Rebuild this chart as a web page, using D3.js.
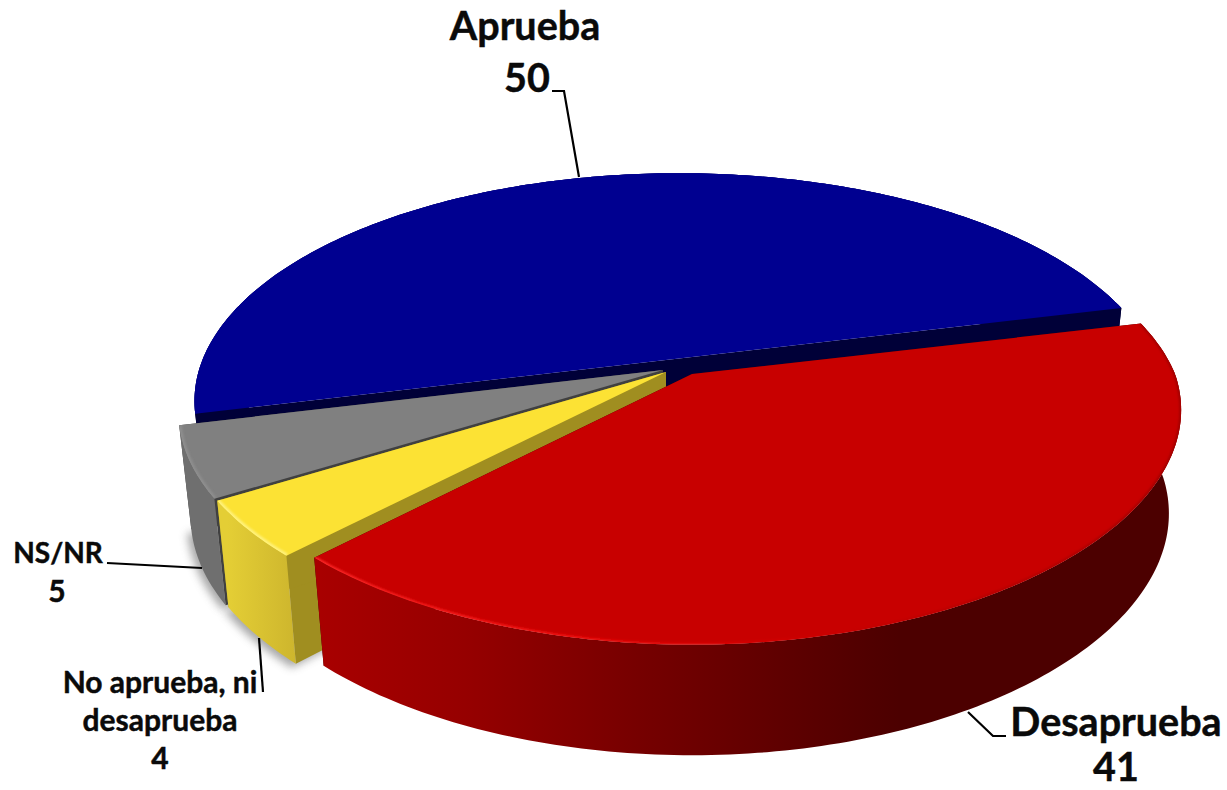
<!DOCTYPE html>
<html><head><meta charset="utf-8">
<script src="https://cdn.jsdelivr.net/npm/d3@7/dist/d3.min.js"></script>
<style>html,body{margin:0;padding:0;background:#fff;overflow:hidden}text{font-family:Lato,"Open Sans",sans-serif;font-weight:700;fill:#0a0a0a;stroke:#0a0a0a;stroke-width:.45px}</style>
</head><body><svg id="c" width="1227" height="790"></svg>
<script>
const categories = ["Aprueba","Desaprueba","No aprueba, ni desaprueba","NS/NR"];
const values = [50,41,4,5];
const seriesColors = {top:["#000090","#c80000","#fce234","#808080"],cut:["#000038","#3c0000","#a08e20","#404040"],bevel:["#000090","url(#redBevel)","#fff27a","#8e8e8e"]};
const rimFills = ["#000038","url(#redRim)","url(#yelRim)","#6f6f6f"];
const apexX = [679,692,666,663], apexY = [358.5,374,372,370];
const drawOrder = [0,3,2,1];

const W=1227,H=790, Ry=220, K=0.187, DEPTH=102.5, SX=0.975, SY=1.03;
const radX = [476,483,480,476], narrowFront=[0,.03,.015,0];
const svg=d3.select("#c");
const defs=svg.append("defs");
function grad(id,x1,x2,stops){const g=defs.append("linearGradient").attr("id",id).attr("gradientUnits","userSpaceOnUse").attr("x1",x1).attr("x2",x2).attr("y1",0).attr("y2",0);
 stops.forEach(s=>g.append("stop").attr("offset",s[0]).attr("stop-color",s[1]));}
grad("redRim",320,900,[[0,"#a80000"],[.25,"#960000"],[.55,"#760000"],[.95,"#500000"],[1,"#4c0000"]]);
grad("yelRim",228,297,[[0,"#e4ce35"],[1,"#cdb52d"]]);
grad("redBevel",315,1180,[[0,"#ff2a2a"],[.3,"#f01010"],[.6,"#c80000"],[1,"#a00000"]]);
const blur=defs.append("filter").attr("id","soft").attr("x","-20%").attr("y","-20%").attr("width","140%").attr("height","140%");
blur.append("feGaussianBlur").attr("stdDeviation",4);
const blur2=defs.append("filter").attr("id","soft2").attr("x","-5%").attr("y","-5%").attr("width","110%").attr("height","110%");
blur2.append("feGaussianBlur").attr("stdDeviation",1);

const pie=d3.pie().value(d=>d).sort(null).startAngle(-103.85*Math.PI/180).endAngle(256.15*Math.PI/180);
const arcs=pie(values);
const line=d3.line();
function proj(i,a,bottom){
  const u=Math.sin(a),v=Math.cos(a),w=1+K*v;
  const sx=d3.scaleLinear().domain([-1,1]).range([-radX[i],radX[i]]);
  const sy=d3.scaleLinear().domain([-1,1]).range([Ry,-Ry]);
  const x=sx(u/w)*(v<0?1+narrowFront[i]*v:1),y=sy(v/w);
  return bottom?[apexX[i]+SX*x,apexY[i]+DEPTH+SY*y]:[apexX[i]+x,apexY[i]+y];
}
function samples(d){const n=Math.max(8,Math.ceil((d.endAngle-d.startAngle)*60));return d3.range(n+1).map(j=>d.startAngle+(d.endAngle-d.startAngle)*j/n);}

// soft cast shadow under the two small slices
[3,2].forEach(i=>{
  const d=arcs[i],ang=samples(d);
  const pts=[[apexX[i],apexY[i]+DEPTH]].concat(ang.map(a=>{const p=proj(i,a,true);return [p[0]-4,p[1]+4];}));
  svg.append("path").attr("d",line(pts)+"Z").attr("fill","#8a8a8a").attr("opacity",.75).attr("filter","url(#soft)");
});

drawOrder.forEach(i=>{
  const d=arcs[i],ang=samples(d),g=svg.append("g");
  const topPts=ang.map(a=>proj(i,a,false)),botPts=ang.map(a=>proj(i,a,true));
  const ax=apexX[i],ay=apexY[i];
  const apexBot=[ax,ay+DEPTH];
  [0,ang.length-1].forEach(e=>{
    g.append("path").attr("d",line([[ax,ay],topPts[e],botPts[e],apexBot])+"Z").attr("fill",seriesColors.cut[i]);
  });
  g.append("path").attr("d",line(topPts.concat(botPts.slice().reverse()))+"Z").attr("fill",rimFills[i]);
  const face=line([[ax,ay]].concat(topPts))+"Z";
  g.append("path").attr("d",face).attr("fill",seriesColors.top[i]);
  const cid="clip"+i;
  defs.append("clipPath").attr("id",cid).append("path").attr("d",face);
  g.append("g").attr("clip-path",`url(#${cid})`).append("path").attr("d",line(topPts)).attr("fill","none")
    .attr("stroke",seriesColors.bevel[i]).attr("stroke-width",i==1?3.5:5).attr("filter","url(#soft2)");
});

// leader lines
const leaders=[[[552,91],[564,91],[579,177]],[[107,563],[202,568]],[[259,638],[263,692]],[[968,712],[993,736],[1006,736]]];
leaders.forEach(l=>svg.append("path").attr("d",line(l)).attr("fill","none").attr("stroke","#000").attr("stroke-width",2.2));

// labels
const labelRows=[
 ["Aprueba",525,40,39.5],[String(values[0]),527,92,39.5],
 ["Desaprueba",1116,736,39.5],[String(values[1]),1116,781,39.5],
 ["No aprueba, ni",160,693,30],["desaprueba",160,731,30],[String(values[2]),160,769,30],
 ["NS/NR",58,563,28],[String(values[3]),57,602,30]];
svg.selectAll("text.l").data(labelRows).enter().append("text").attr("class","l")
 .attr("x",d=>d[1]).attr("y",d=>d[2]).attr("font-size",d=>d[3]).attr("text-anchor","middle").text(d=>d[0]);
</script></body></html>
